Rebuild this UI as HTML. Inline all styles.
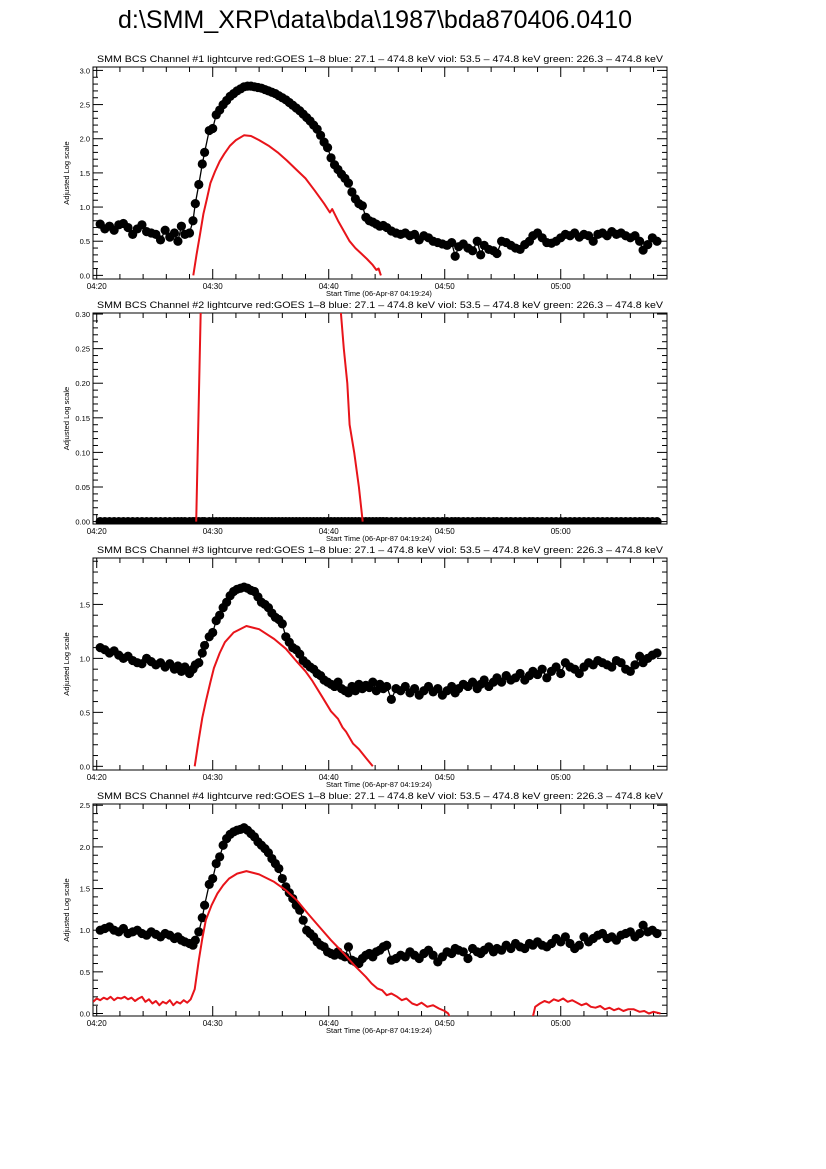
<!DOCTYPE html>
<html><head><meta charset="utf-8">
<style>
html,body{margin:0;padding:0;background:#fff;}
svg{display:block;font-family:"Liberation Sans",sans-serif;}
</style></head>
<body>
<svg id="chart" width="826" height="1169" viewBox="0 0 826 1169" xmlns="http://www.w3.org/2000/svg">
<rect width="826" height="1169" fill="#fff"/>
<text x="375" y="28" font-size="25" text-anchor="middle" textLength="514" lengthAdjust="spacingAndGlyphs" fill="#000">d:\SMM_XRP\data\bda\1987\bda870406.0410</text>
</svg>
<script>
// shared time axis (minutes after 04:20) for BCS points
const T = [0.3,0.7,1.1,1.5,1.9,2.3,2.7,3.1,3.5,3.9,4.3,4.7,5.1,5.5,5.9,6.3,6.7,7.0,7.3,7.6,8.0,
8.3,8.5,8.8,9.1,9.3,9.7,
10.0,10.3,10.6,10.9,11.2,11.5,11.8,12.1,12.4,12.7,13.0,13.3,13.6,13.9,14.2,14.5,14.8,15.1,15.4,15.7,16.0,16.3,16.6,16.9,17.2,17.5,17.8,18.1,18.4,18.7,19.0,19.3,19.6,19.9,20.2,20.5,20.8,21.1,21.4,21.7,22.0,22.3,22.6,22.9,23.2,
23.5,23.8,24.1,24.4,24.7,25.0,
25.4,25.8,26.2,26.6,27.0,27.4,27.8,28.2,28.6,29.0,29.4,29.8,30.2,30.6,
30.9,31.2,
31.6,32.0,32.4,32.8,
33.1,
33.4,33.8,34.2,
34.5,
34.9,35.3,35.7,36.1,36.5,36.9,37.3,
37.6,
38.0,38.4,38.8,39.2,39.6,40.0,40.4,40.8,41.2,41.6,42.0,42.4,42.8,43.2,43.6,44.0,44.4,44.8,45.2,45.6,46.0,46.4,46.8,
47.1,
47.5,47.9,48.3];
const bcs1 = [.75,.68,.72,.66,.74,.76,.70,.60,.68,.74,.64,.62,.60,.52,.66,.56,.62,.50,.72,.60,.62,
.80,1.05,1.33,1.63,1.80,2.12,
2.15,2.35,2.42,2.50,2.56,2.62,2.66,2.70,2.73,2.76,2.77,2.77,2.76,2.75,2.74,2.72,2.70,2.68,2.66,2.63,2.60,2.57,2.53,2.49,2.45,2.41,2.36,2.31,2.26,2.20,2.14,2.05,1.95,1.87,1.72,1.62,1.55,1.48,1.42,1.35,1.22,1.12,1.05,1.02,0.85,
.80,.78,.75,.72,.73,.70,
.65,.62,.60,.62,.58,.60,.52,.58,.55,.50,.48,.46,.44,.48,
.28,.42,
.46,.40,.36,.50,
.30,
.44,.38,.36,
.32,
.50,.48,.44,.40,.38,.45,.50,
.58,
.62,.55,.48,.47,.50,.55,.60,.58,.62,.56,.60,.58,.50,.60,.62,.58,.64,.60,.62,.58,.55,.58,.50,
.37,
.45,.55,.50];
const bcs2 = [0,0,0,0,0,0,0,0,0,0,0,0,0,0,0,0,0,0,0,0,0,
0,0,0,0,0,0,
0,0,0,0,0,0,0,0,0,0,0,0,0,0,0,0,0,0,0,0,0,0,0,0,0,0,0,0,0,0,0,0,0,0,0,0,0,0,0,0,0,0,0,0,0,
0,0,0,0,0,0,
0,0,0,0,0,0,0,0,0,0,0,0,0,0,
0,0,
0,0,0,0,
0,
0,0,0,
0,
0,0,0,0,0,0,0,
0,
0,0,0,0,0,0,0,0,0,0,0,0,0,0,0,0,0,0,0,0,0,0,0,
0,
0,0,0];
const bcs3 = [1.10,1.08,1.05,1.07,1.03,1.00,1.02,0.98,0.96,0.95,1.00,0.97,0.94,0.96,0.92,0.95,0.90,0.93,0.88,0.92,0.86,
0.90,0.94,0.96,1.05,1.12,1.20,
1.24,1.35,1.40,1.47,1.52,1.58,1.62,1.64,1.65,1.66,1.65,1.63,1.62,1.57,1.52,1.50,1.47,1.42,1.38,1.36,1.32,1.20,1.15,1.10,1.08,1.04,0.98,0.95,0.92,0.90,0.86,0.84,0.80,0.78,0.76,0.74,0.78,0.72,0.70,0.68,0.74,0.70,0.76,0.72,0.75,
0.73,0.78,0.70,0.76,0.72,0.74,
0.62,0.72,0.70,0.74,0.68,0.72,0.66,0.70,0.74,0.69,0.72,0.66,0.70,0.74,
0.68,0.72,
0.76,0.74,0.78,0.72,
0.76,
0.80,0.74,0.78,
0.82,
0.78,0.84,0.80,0.82,0.86,0.80,0.84,
0.88,
0.85,0.90,0.82,0.88,0.92,0.86,0.96,0.92,0.90,0.86,0.92,0.96,0.94,0.98,0.96,0.94,0.92,0.98,0.96,0.90,0.88,0.94,1.02,
0.96,
1.00,1.03,1.05];
const bcs4 = [1.00,1.02,1.04,1.00,0.98,1.02,0.96,0.98,1.00,0.96,0.94,0.98,0.95,0.92,0.96,0.94,0.90,0.92,0.88,0.86,0.84,
0.82,0.88,0.98,1.15,1.30,1.55,
1.62,1.80,1.88,2.02,2.10,2.15,2.18,2.20,2.21,2.23,2.20,2.16,2.12,2.06,2.02,1.98,1.93,1.86,1.80,1.74,1.62,1.52,1.45,1.38,1.30,1.24,1.12,1.00,0.96,0.92,0.86,0.82,0.80,0.74,0.72,0.70,0.74,0.70,0.68,0.80,0.64,0.62,0.60,0.66,0.70,
0.72,0.68,0.74,0.76,0.80,0.82,
0.64,0.66,0.70,0.68,0.74,0.70,0.66,0.72,0.76,0.70,0.62,0.68,0.74,0.72,
0.78,0.76,
0.74,0.66,0.78,0.74,
0.72,
0.76,0.80,0.74,
0.78,
0.76,0.82,0.78,0.84,0.80,0.78,0.84,
0.82,
0.86,0.82,0.80,0.84,0.90,0.86,0.92,0.84,0.78,0.82,0.92,0.86,0.90,0.94,0.96,0.90,0.92,0.88,0.94,0.96,0.98,0.92,0.96,
1.06,
0.98,1.00,0.96];
// GOES red curves
const goesT1 = [8.33,8.6,8.9,9.2,9.5,9.8,10.2,10.6,11.0,11.5,12.0,12.7,13.3,14.0,14.8,15.6,16.4,17.2,18.0,18.8,19.6,20.1,20.3,20.8,21.3,21.8,22.3,22.8,23.3,23.8,24.1,24.3,24.5];
const goesV1 = [0,0.3,0.6,0.9,1.12,1.35,1.52,1.67,1.78,1.90,1.98,2.05,2.04,1.98,1.90,1.80,1.68,1.55,1.42,1.24,1.05,0.92,0.97,0.80,0.65,0.50,0.40,0.32,0.24,0.15,0.08,0.10,0.0];
const goesT2 = [8.58,8.97,9.3,10,12.7,19,20.5,21.06,21.3,21.6,21.8,22.2,22.6,22.93];
const goesV2 = [0,0.31,0.5,0.8,1.2,0.8,0.4,0.30,0.25,0.20,0.14,0.10,0.05,0];
const goesT3 = [8.45,8.8,9.1,9.4,9.8,10.1,10.6,11.05,11.8,12.9,14.0,15.3,16.3,17.25,18.0,18.6,19.4,20.2,20.8,21.2,21.5,22.1,22.6,23.2,23.8];
const goesV3 = [0,0.25,0.45,0.6,0.78,0.91,1.05,1.15,1.24,1.30,1.27,1.18,1.09,0.97,0.88,0.79,0.65,0.51,0.44,0.36,0.32,0.21,0.16,0.08,0];
const goesT4 = [-0.3,0.0,0.3,0.6,0.9,1.2,1.5,1.8,2.1,2.4,2.7,3.0,3.3,3.6,3.9,4.2,4.5,4.8,5.1,5.4,5.7,6.0,6.3,6.6,6.9,7.2,7.5,7.8,8.1,
8.45,8.8,9.1,9.4,9.9,10.4,10.9,11.4,12.1,12.9,14.0,15.3,16.3,17.25,18.2,19.2,20.2,21.3,22.2,23.2,23.7,24.2,24.6,25.0,25.4,25.9,26.3,26.7,27.2,27.6,28.0,28.5,29.0,29.5,30.0,30.3,30.6,
37.5,37.8,38.2,38.6,39.0,39.4,39.8,40.2,40.6,41.0,41.4,41.8,42.2,42.6,43.0,43.4,43.8,44.2,44.6,45.0,45.4,45.8,46.3,46.8,47.2,47.6,48.0,48.6];
const goesV4 = [0.14,0.18,0.16,0.19,0.17,0.20,0.16,0.19,0.18,0.20,0.17,0.19,0.15,0.18,0.20,0.14,0.17,0.12,0.15,0.10,0.14,0.12,0.16,0.10,0.14,0.12,0.16,0.13,0.17,
0.29,0.64,0.90,1.12,1.30,1.44,1.54,1.62,1.68,1.71,1.67,1.58,1.48,1.36,1.20,1.04,0.88,0.72,0.58,0.44,0.36,0.30,0.28,0.22,0.24,0.20,0.16,0.18,0.12,0.10,0.13,0.08,0.10,0.06,0.03,0.0,-0.1,
-0.1,0.08,0.12,0.15,0.13,0.17,0.15,0.18,0.14,0.16,0.13,0.10,0.12,0.08,0.07,0.09,0.05,0.07,0.04,0.06,0.03,0.05,0.05,0.02,0.03,0.0,0.02,0.0];
const xTickLabels = ["04:20","04:30","04:40","04:50","05:00"];
const yTicks1 = ["0.0","0.5","1.0","1.5","2.0","2.5","3.0"];
const yTicks2 = ["0.00","0.05","0.10","0.15","0.20","0.25","0.30"];
const yTicks3 = ["0.0","0.5","1.0","1.5"];
const yTicks4 = ["0.0","0.5","1.0","1.5","2.0","2.5"];

const NS = "http://www.w3.org/2000/svg";
const svg = document.getElementById('chart');
const X0 = 93, X1 = 667, TMIN = -0.32, TMAX = 49.16;
function mk(tag, attrs, parent){ const e=document.createElementNS(NS,tag); for(const k in attrs) e.setAttribute(k,attrs[k]); (parent||svg).appendChild(e); return e; }
function xs(t){ return X0 + (t-TMIN)/(TMAX-TMIN)*(X1-X0); }

const panels = [
 {n:1, top:67, bot:279, ymin:-0.053, ymax:3.05, ticks:yTicks1, step:0.5, minor:0.1, bcs:bcs1, gt:goesT1, gv:goesV1},
 {n:2, top:313, bot:524, ymin:-0.0035, ymax:0.3015, ticks:yTicks2, step:0.05, minor:0.01, bcs:bcs2, gt:goesT2, gv:goesV2},
 {n:3, top:558, bot:770, ymin:-0.034, ymax:1.93, ticks:yTicks3, step:0.5, minor:0.1, bcs:bcs3, gt:goesT3, gv:goesV3},
 {n:4, top:804, bot:1016, ymin:-0.03, ymax:2.515, ticks:yTicks4, step:0.5, minor:0.1, bcs:bcs4, gt:goesT4, gv:goesV4}
];
panels.forEach(p=>{
  const g = mk('g',{});
  
  
  const ys = v => p.bot - (v-p.ymin)/(p.ymax-p.ymin)*(p.bot-p.top);
  const sub = mk('text',{x:380,y:p.top-5,'font-size':9.6,'text-anchor':'middle',textLength:566,lengthAdjust:'spacingAndGlyphs'},g);
  sub.textContent = 'SMM BCS Channel #'+p.n+' lightcurve  red:GOES 1\u20138  blue: 27.1 \u2013 474.8 keV  viol: 53.5 \u2013 474.8 keV  green: 226.3 \u2013 474.8 keV';
  
  
  const cp = mk('clipPath',{id:'clip'+p.n},g);
  mk('rect',{x:X0,y:p.top,width:X1-X0,height:p.bot-p.top},cp);
  for(let m=0;m<=48;m+=2){
    const x=xs(m), major=(m%10===0), L=major?10:5;
    mk('line',{x1:x,y1:p.bot,x2:x,y2:p.bot-L,stroke:'#000','stroke-width':1},g);
    mk('line',{x1:x,y1:p.top,x2:x,y2:p.top+L,stroke:'#000','stroke-width':1},g);
  }
  xTickLabels.forEach((lab,i)=>{
    const t=mk('text',{x:xs(i*10),y:p.bot+10,'font-size':8,'text-anchor':'middle'},g);
    t.textContent=lab;
    
    
  });
  const xt=mk('text',{x:379,y:p.bot+17,'font-size':7.5,'text-anchor':'middle'},g);
  xt.textContent='Start Time (06-Apr-87 04:19:24)';
  
  
  const nMinor = Math.round((p.ymax - 1e-9)/p.minor);
  for(let k=0;k<=nMinor;k++){
    const v=k*p.minor, y=ys(v), major=(k % Math.round(p.step/p.minor)===0), L=major?10:5;
    mk('line',{x1:X0,y1:y,x2:X0+L,y2:y,stroke:'#000','stroke-width':1},g);
    mk('line',{x1:X1,y1:y,x2:X1-L,y2:y,stroke:'#000','stroke-width':1},g);
  }
  p.ticks.forEach((lab,i)=>{
    const t=mk('text',{x:X0-3,y:ys(i*p.step)+3,'font-size':7.5,'text-anchor':'end'},g);
    t.textContent=lab;
    
    
  });
  const yl=mk('text',{x:0,y:0,'font-size':7.5,'text-anchor':'middle',transform:'translate(69,'+((p.top+p.bot)/2)+') rotate(-90)'},g);
  yl.textContent='Adjusted Log scale';
  
  
  const fr=mk('rect',{x:X0,y:p.top,width:X1-X0,height:p.bot-p.top,fill:'none',stroke:'#000','stroke-width':1},g);
  
  
  const dg=mk('g',{'clip-path':'url(#clip'+p.n+')'},g);
  let d='';
  T.forEach((t,i)=>{ d+=(i?'L':'M')+xs(t).toFixed(1)+','+ys(p.bcs[i]).toFixed(1); });
  const bl=mk('path',{d:d,fill:'none',stroke:'#000','stroke-width':1.3},dg);
  
  
  T.forEach((t,i)=>{
    const c=mk('circle',{cx:xs(t),cy:ys(p.bcs[i]),r:4.6,fill:'#000'},dg);
    
    
  });
  let r='';
  p.gt.forEach((t,i)=>{ r+=(i?'L':'M')+xs(t).toFixed(1)+','+ys(p.gv[i]).toFixed(1); });
  const rl=mk('path',{d:r,fill:'none',stroke:'#e8141a','stroke-width':2,'stroke-linejoin':'round'},dg);
  
  
});
</script>
</body></html>
